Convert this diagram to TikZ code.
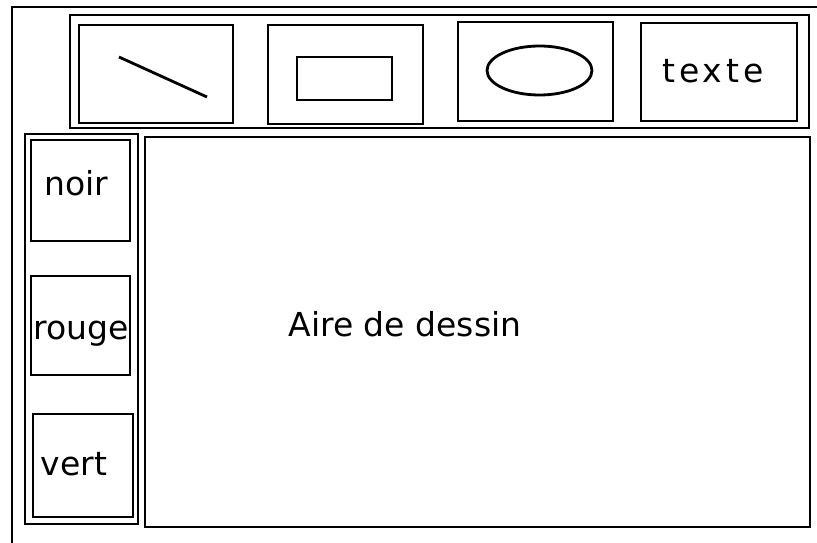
\documentclass[tikz,border=0pt]{standalone}
\usepackage{fontspec}
\setmainfont{DejaVu Sans}
\usepackage{tikz}
\usetikzlibrary{positioning,shapes.geometric}

\begin{document}
\begin{tikzpicture}[
  x=1pt, y=-1pt,
  frame/.style={draw, line width=2.8pt, rectangle, inner sep=0pt},
  lbl/.style={anchor=base, inner sep=0pt, font=\fontsize{33}{40}\selectfont}
]
\useasboundingbox (0,0) rectangle (817,543);
% fenetre
\draw[line width=2.8pt] (12,543) -- (12,7) -- (817,7);
% barre d'outils
\node[frame, minimum width=739pt, minimum height=113pt] (barre)  at (439.5,71.5) {};
\node[frame, minimum width=154pt, minimum height=98pt]  (ligne)  at (156,74)     {};
\node[frame, minimum width=155pt, minimum height=99pt]  (rect)   at (345.5,74.5) {};
\node[frame, minimum width=155pt, minimum height=99pt]  (ellip)  at (535.5,71.5) {};
\node[frame, minimum width=156pt, minimum height=98pt]  (texte)  at (719,72)     {};
\coordinate (l1) at (119,57);
\coordinate (l2) at (207,97);
\draw[line width=2.8pt] (l1) -- (l2);
\node[frame, minimum width=95pt, minimum height=43pt] (rectin) at (344.5,78.5) {};
\node[frame, ellipse, minimum width=105pt, minimum height=49pt] (ellin) at (539.5,70.5) {};
\node[lbl, font=\fontsize{33}{40}\selectfont\addfontfeature{LetterSpace=12}] (ttexte) at (713,83) {texte};
% palette
\node[frame, minimum width=113pt, minimum height=390pt] (palette) at (81.5,329)   {};
\node[frame, minimum width=99pt,  minimum height=101pt] (noir)    at (80.5,190.5) {};
\node[frame, minimum width=99pt,  minimum height=99pt]  (rouge)   at (80.5,325.5) {};
\node[frame, minimum width=100pt, minimum height=103pt] (vert)    at (83,465.5)   {};
\node[lbl] (tnoir)  at (76.5,195) {noir};
\node[lbl] (trouge) at (81.5,339) {rouge};
\node[lbl] (tvert)  at (74,475)   {vert};
% aire de dessin
\node[frame, minimum width=665pt, minimum height=390pt] (aire) at (477.5,332) {};
\node[lbl] (taire) at (405,336) {Aire de dessin};
\end{tikzpicture}
\end{document}
